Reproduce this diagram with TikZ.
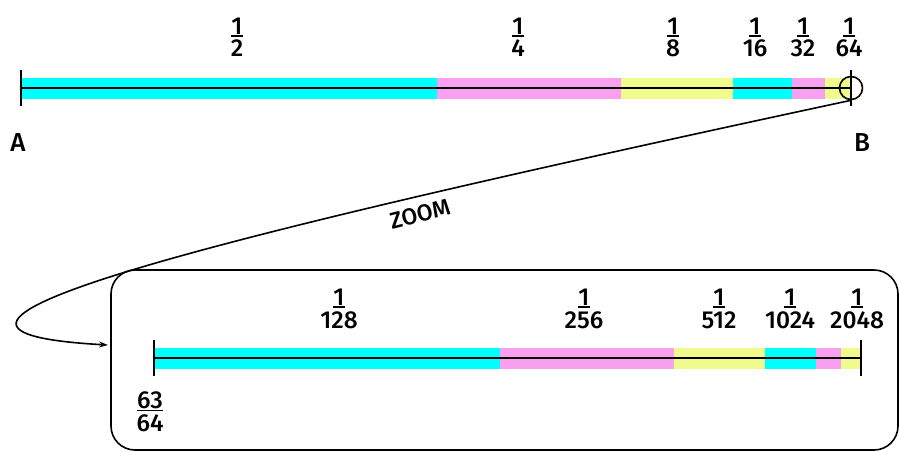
\documentclass[tikz,border=0pt]{standalone}
\usepackage{fontspec}
\setmainfont{Fira Sans}[UprightFont=* Medium]
\usetikzlibrary{arrows.meta}
\definecolor{segcyan}{RGB}{0,255,255}
\definecolor{segpink}{RGB}{249,160,240}
\definecolor{segyellow}{RGB}{241,250,140}
\newcommand{\numbar}[1]{\setbox0\hbox{#1}\rlap{\rule[-2.2pt]{\wd0}{1.6pt}}\box0}
\newcommand{\frc}[2]{\numbar{#1}\\#2}
\begin{document}
\begin{tikzpicture}[x=1pt,y=-1pt,
  lbl/.style={inner sep=0pt, font=\fontsize{24.5}{22.5}\selectfont, align=center},
  letter/.style={inner sep=0pt, font=\fontsize{26}{28}\selectfont},
  axis/.style={line width=1.8pt},
  tickline/.style={line width=1.8pt},
  conn/.style={line width=1.6pt, -{Stealth[length=9pt,width=6pt]}}]
\useasboundingbox (0,0) rectangle (900,451);
% ---------- top bar ----------
\fill[segcyan]   (21,78)  rectangle (437,99);
\fill[segpink]   (437,78) rectangle (621,99);
\fill[segyellow] (621,78) rectangle (733,99);
\fill[segcyan]   (733,78) rectangle (792,99);
\fill[segpink]   (792,78) rectangle (825,99);
\fill[segyellow] (825,78) rectangle (851,99);
\coordinate (a0) at (21,88);
\coordinate (b0) at (851,88);
\draw[axis] (a0) -- (b0);
\draw[tickline] (21,70) -- (21,106);
\draw[tickline] (851,70) -- (851,106);
\node[circle, draw, line width=1.6pt, minimum size=23pt, inner sep=0pt] (circ) at (b0) {};
% top labels
\node[lbl] (h2)  at (237,37.5) {\frc{1}{2}};
\node[lbl] (h4)  at (518,37.5) {\frc{1}{4}};
\node[lbl] (h8)  at (673,37.5) {\frc{1}{8}};
\node[lbl] (h16) at (755,37.5) {\frc{1}{16}};
\node[lbl] (h32) at (803,37.5) {\frc{1}{32}};
\node[lbl] (h64) at (849,37.5) {\frc{1}{64}};
\node[letter] (A) at (18,142.5) {A};
\node[letter] (B) at (862,142.5) {B};
% ---------- zoom box ----------
\node[draw, line width=1.6pt, rounded corners=24pt, minimum width=787pt,
      minimum height=180pt, inner sep=0pt] (zoombox) at (504.5,360) {};
\coordinate (arrowend) at (108,345);
\draw[conn] (circ.south) .. controls (200,240) and (-160,330) .. (arrowend);
\node[inner sep=0pt, font=\fontsize{23}{25}\selectfont, rotate=14] (zoomlbl) at (420,214) {ZOOM};
% ---------- bottom bar ----------
\fill[segcyan]   (154,348) rectangle (500,369);
\fill[segpink]   (500,348) rectangle (674,369);
\fill[segyellow] (674,348) rectangle (765,369);
\fill[segcyan]   (765,348) rectangle (816,369);
\fill[segpink]   (816,348) rectangle (841,369);
\fill[segyellow] (841,348) rectangle (861,369);
\coordinate (a1) at (154,358);
\coordinate (b1) at (861,358);
\draw[axis] (a1) -- (b1);
\draw[tickline] (154,340) -- (154,376);
\draw[tickline] (861,340) -- (861,376);
\node[lbl] (h128)  at (339,309) {\frc{1}{128}};
\node[lbl] (h256)  at (584,309) {\frc{1}{256}};
\node[lbl] (h512)  at (719,309) {\frc{1}{512}};
\node[lbl] (h1024) at (790,309) {\frc{1}{1024}};
\node[lbl] (h2048) at (857,309) {\frc{1}{2048}};
\node[lbl] (h6364) at (150,412) {\frc{63}{64}};
\end{tikzpicture}
\end{document}
